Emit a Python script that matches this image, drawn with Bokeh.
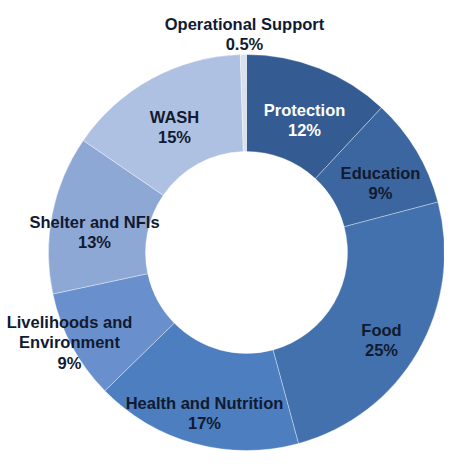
import math
from bokeh.plotting import figure
from bokeh.models import Range1d, ColumnDataSource
from bokeh.core.properties import value
from bokeh.embed import file_html
from bokeh.resources import INLINE

categories = ["Protection", "Education", "Food", "Health and Nutrition",
              "Livelihoods and Environment", "Shelter and NFIs", "WASH",
              "Operational Support"]
shares = [12, 9, 25, 17, 9, 13, 15, 0.5]
pct_labels = ["12%", "9%", "25%", "17%", "9%", "13%", "15%", "0.5%"]
label_text = ["Protection\n12%", "Education\n9%", "Food\n25%",
              "Health and Nutrition\n17%", "Livelihoods and\nEnvironment\n9%",
              "Shelter and NFIs\n13%", "WASH\n15%", "Operational Support\n0.5%"]
colors = ["#345c92", "#3c66a0", "#4371ad", "#4d7ebf", "#6990cc",
          "#8ea8d6", "#afc1e2", "#d9e0ee"]
text_colors = ["white", "#111a30", "#111a30", "#111a30", "#111a30",
               "#111a30", "#111a30", "#111a30"]
# label anchor positions in page pixels (x, y of first line)
label_px = [(312, 108), (388, 171), (389, 328), (212, 401), (77, 320),
            (102, 220), (182, 115), (252, 22)]

H = 467
W_FIG, H_FIG = 444, 451
cx, cy_page = 254, 260
r_out, r_in = 198, 101

total = sum(shares)
starts, ends = [], []
acc = 0.0
for s in shares:
    a0 = math.pi / 2 - 2 * math.pi * acc / total
    acc += s
    a1 = math.pi / 2 - 2 * math.pi * acc / total
    starts.append(a1)
    ends.append(a0)

src = ColumnDataSource(dict(start=starts, end=ends, color=colors, cat=categories, share=shares))

p = figure(width=W_FIG, height=H_FIG, output_backend="svg", toolbar_location=None,
           x_range=Range1d(8, 8 + W_FIG), y_range=Range1d(H - 8 - H_FIG, H - 8),
           min_border=0)
p.axis.visible = False
p.grid.visible = False
p.outline_line_color = None
p.background_fill_color = "white"
p.border_fill_color = "white"

p.annular_wedge(x=cx, y=H - cy_page, inner_radius=r_in, outer_radius=r_out,
                start_angle="start", end_angle="end", fill_color="color",
                line_color="white", line_alpha=0.35, line_width=1, source=src)

for txt, (lx, ly), tc in zip(label_text, label_px, text_colors):
    p.text(x=[lx], y=[H - ly], text=[txt], text_align="center", text_baseline="top",
           text_font=value("Liberation Sans"), text_font_style="bold",
           text_font_size="16.5px", text_color=tc, text_line_height=1.14)

open("out.html", "w").write(file_html(p, INLINE))
